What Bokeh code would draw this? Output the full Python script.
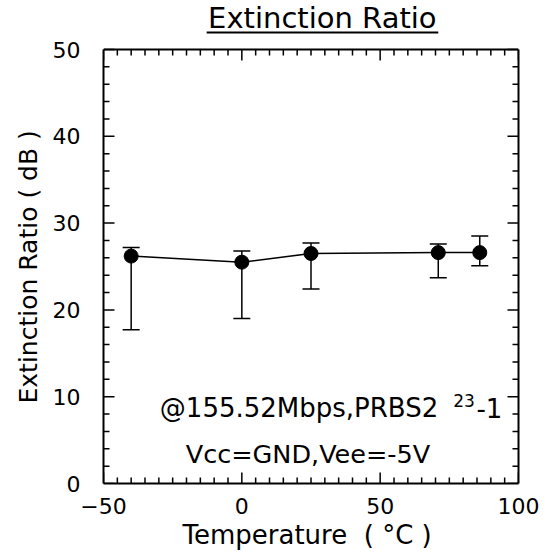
import math
from bokeh.plotting import figure
from bokeh.models import (Range1d, LinearAxis, FixedTicker, Whisker, TeeHead,
                          ColumnDataSource, Label, Title)
from bokeh.core.properties import value
from bokeh.embed import file_html
from bokeh.resources import INLINE

# ---- data ----
temperature = [-40, 0, 25, 71, 86]
extinction = [26.2, 25.5, 26.5, 26.6, 26.6]
err_upper = [27.2, 26.8, 27.7, 27.6, 28.5]
err_lower = [17.7, 19.0, 22.4, 23.7, 25.1]

x_major = [-50, 0, 50, 100]
x_minor = [v for v in range(-50, 101, 5) if v not in x_major]
y_major = [0, 10, 20, 30, 40, 50]
y_minor = [v for v in range(0, 51, 2) if v not in y_major]

X_MIN, X_MAX = -50, 100
Y_MIN, Y_MAX = 0, 50

FONT = "DejaVu Sans"

src = ColumnDataSource(dict(t=temperature, er=extinction, hi=err_upper, lo=err_lower))

# the frame is extended above Y_MAX to leave room for the underlined title
p = figure(width=553, height=558, output_backend="svg", toolbar_location=None,
           x_range=Range1d(X_MIN, X_MAX), y_range=Range1d(Y_MIN, 55.07),
           min_border_left=103, min_border_right=35, min_border_top=5,
           min_border_bottom=75)
p.grid.visible = False
p.outline_line_color = None
p.background_fill_color = "white"
p.border_fill_color = "white"

xa = p.xaxis[0]
ya = p.yaxis[0]
for ax, tk in ((xa, x_major), (ya, y_major)):
    ax.ticker = FixedTicker(ticks=tk, minor_ticks=[])
    ax.axis_line_color = "black"
    ax.axis_line_width = 2
    ax.major_tick_in = 0
    ax.major_tick_out = 0
    ax.minor_tick_in = 0
    ax.minor_tick_out = 0
    ax.major_label_text_font = FONT
    ax.major_label_text_font_size = "22px"
    ax.major_label_text_color = "black"
ya.bounds = (Y_MIN, Y_MAX)
xa.major_label_standoff = 14
ya.major_label_standoff = 23

# axis titles
p.add_layout(Title(text="Temperature \u00a0( °C )", align="left", offset=79, standoff=2,
                   text_font=FONT, text_font_size="26px", text_font_style="normal",
                   text_color="black"), "below")
p.add_layout(Title(text="Extinction Ratio ( dB )", align="left", offset=80, standoff=13,
                   text_font=FONT, text_font_size="25px", text_font_style="normal",
                   text_color="black"), "left")

# right border line (no ticks / labels)
right = LinearAxis(ticker=FixedTicker(ticks=[]), bounds=(Y_MIN, Y_MAX),
                   axis_line_color="black", axis_line_width=2,
                   major_tick_in=0, major_tick_out=0, minor_tick_in=0, minor_tick_out=0)
p.add_layout(right, "right")
# top border line
p.hspan(y=[Y_MAX], line_color="black", line_width=2)

# inward ticks on all four sides
TK = dict(line_color="black", line_width=1.5, length_units="screen")
p.ray(x=x_major, y=[Y_MIN] * len(x_major), length=11, angle=math.pi / 2, **TK)
p.ray(x=x_minor, y=[Y_MIN] * len(x_minor), length=6, angle=math.pi / 2, **TK)
p.ray(x=x_major, y=[Y_MAX] * len(x_major), length=11, angle=-math.pi / 2, **TK)
p.ray(x=x_minor, y=[Y_MAX] * len(x_minor), length=6, angle=-math.pi / 2, **TK)
p.ray(x=[X_MIN] * len(y_major), y=y_major, length=11, angle=0, **TK)
p.ray(x=[X_MIN] * len(y_minor), y=y_minor, length=6, angle=0, **TK)
p.ray(x=[X_MAX] * len(y_major), y=y_major, length=11, angle=math.pi, **TK)
p.ray(x=[X_MAX] * len(y_minor), y=y_minor, length=6, angle=math.pi, **TK)

# error bars
w = Whisker(source=src, base="t", upper="hi", lower="lo",
            line_color="black", line_width=1.5,
            upper_head=TeeHead(size=17, line_color="black", line_width=1.5),
            lower_head=TeeHead(size=17, line_color="black", line_width=1.5))
p.add_layout(w)

p.line("t", "er", source=src, line_color="black", line_width=1.5)
p.scatter("t", "er", source=src, size=14, fill_color="black", line_color="black")

# title (underlined)
p.text(x=[29.1], y=[53.67], text=["Extinction Ratio"], text_align="center",
       text_baseline="alphabetic", text_font=value(FONT), text_font_size="29px",
       text_color="black")
p.segment(x0=[-12.7], y0=[51.95], x1=[71.0], y1=[51.95], line_color="black", line_width=2)

# annotation
p.add_layout(Label(x=71, y=8.65, text="@155.52Mbps,PRBS2", text_align="right",
                   text_baseline="alphabetic", text_font=FONT, text_font_size="26px",
                   text_color="black"))
p.add_layout(Label(x=76.4, y=9.55, text="23", text_align="left",
                   text_baseline="alphabetic", text_font=FONT, text_font_size="17px",
                   text_color="black"))
p.add_layout(Label(x=84.8, y=8.65, text="-1", text_align="left",
                   text_baseline="alphabetic", text_font=FONT, text_font_size="26px",
                   text_color="black"))
p.add_layout(Label(x=23.9, y=3.45, text="Vcc=GND,Vee=-5V", text_align="center",
                   text_baseline="alphabetic", text_font=FONT, text_font_size="25.5px",
                   text_color="black"))

open("out.html", "w").write(file_html(p, INLINE))
